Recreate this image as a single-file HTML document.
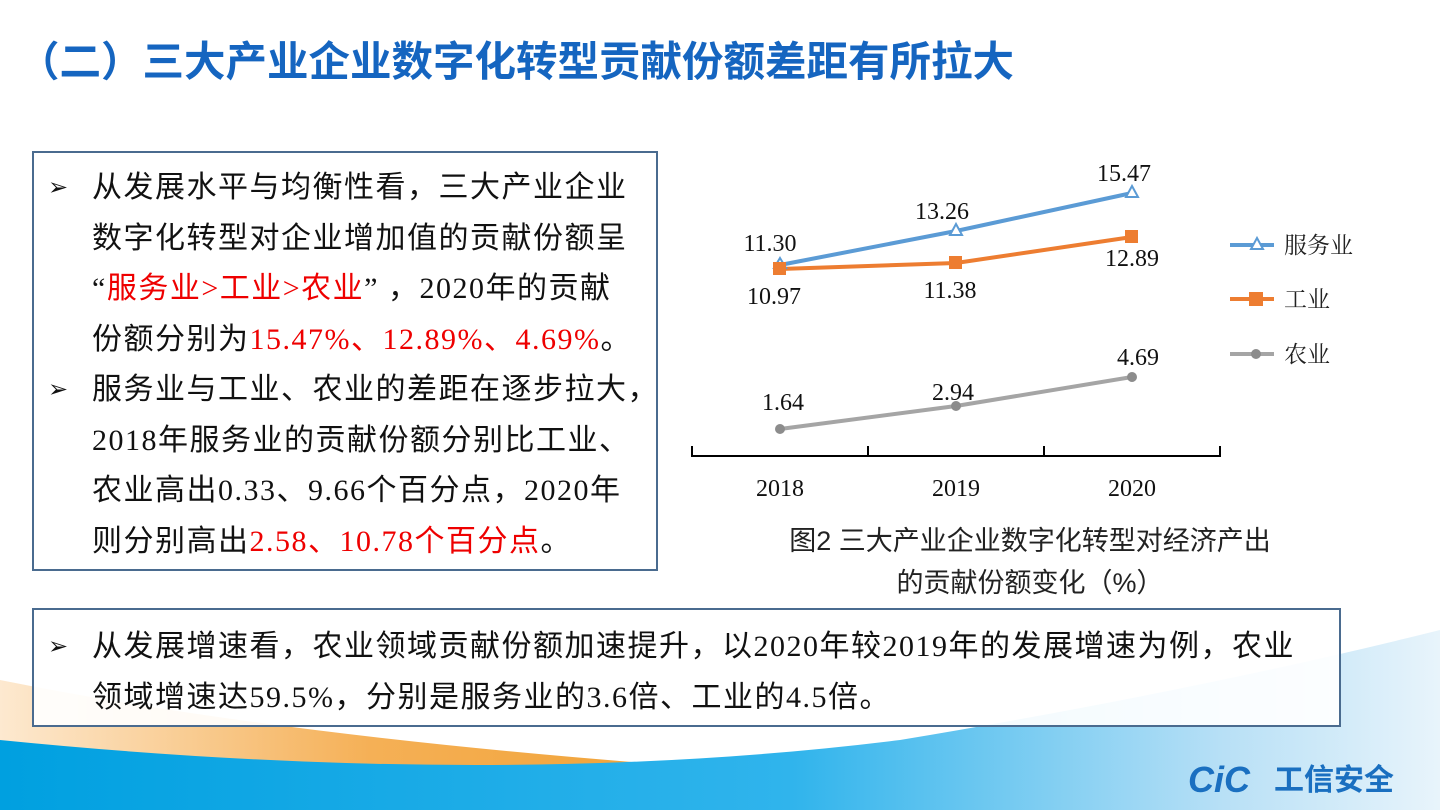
<!DOCTYPE html>
<html><head><meta charset="utf-8"><style>
body{margin:0;width:1440px;height:810px;position:relative;overflow:hidden;background:#fff;font-family:"Liberation Serif","Noto Serif CJK SC","Noto Sans CJK SC",serif;}
.t{position:absolute;left:18px;top:28px;font:bold 41.5px "Liberation Sans","Noto Sans CJK SC",sans-serif;color:#1565c0;white-space:nowrap}
.box{position:absolute;border:2px solid #4a6b8f;background:rgba(255,255,255,0.92);}
.p{position:absolute;font-size:30px;line-height:50.5px;color:#111;font-family:"Liberation Serif","Noto Sans CJK SC",sans-serif;letter-spacing:1.5px;white-space:nowrap}
.p div{position:relative;padding-left:44px}
.p .bl{position:absolute;left:0;top:0;font-size:24px}
.r{color:#e00;}
.b{position:absolute}
</style></head><body>
<svg width="1440" height="810" style="position:absolute;left:0;top:0">
<defs>
<linearGradient id="og" x1="0" x2="1" y1="0" y2="0"><stop offset="0" stop-color="#fde9d0"/><stop offset="0.5" stop-color="#f5b056"/><stop offset="1" stop-color="#f0a030"/></linearGradient>
<linearGradient id="bg" x1="0" x2="1" y1="0" y2="0"><stop offset="0" stop-color="#00a0e0"/><stop offset="0.55" stop-color="#30b4ec"/><stop offset="0.85" stop-color="#b8e0f6"/><stop offset="1" stop-color="#e8f4fb"/></linearGradient>
</defs>
<path d="M0 680 Q300 740 740 770 L0 810 Z" fill="url(#og)"/>
<path d="M0 740 Q500 790 900 740 Q1200 690 1440 630 L1440 810 L0 810 Z" fill="url(#bg)"/>
<g fill="none" stroke-width="4">
<polyline points="780,265 956,231 1132,193" stroke="#5b9bd5"/>
<polyline points="780,269 956,263 1132,237" stroke="#ed7d31"/>
<polyline points="780,429 956,406 1132,377" stroke="#a5a5a5"/>
</g>
<g fill="#fff" stroke="#5b9bd5" stroke-width="2">
<polygon points="780,258 786,268 774,268"/><polygon points="956,224 962,235 950,235"/><polygon points="1132,186 1138,197 1126,197"/>
</g>
<g fill="#ed7d31"><rect x="773" y="262" width="13" height="13"/><rect x="949" y="256" width="13" height="13"/><rect x="1125" y="230" width="13" height="13"/></g>
<g fill="#8c8c8c"><circle cx="780" cy="429" r="5"/><circle cx="956" cy="406" r="5"/><circle cx="1132" cy="377" r="5"/></g>
<path d="M692 446 V456 H1220 V446 M868 456 V446 M1044 456 V446" stroke="#000" stroke-width="2" fill="none"/>
<g font-family="Liberation Serif" font-size="24" fill="#111" text-anchor="middle">
<text x="770" y="251">11.30</text><text x="942" y="219">13.26</text><text x="1124" y="181">15.47</text>
<text x="774" y="304">10.97</text><text x="950" y="298">11.38</text><text x="1132" y="266">12.89</text>
<text x="783" y="410">1.64</text><text x="953" y="400">2.94</text><text x="1138" y="365">4.69</text>
<text x="780" y="496">2018</text><text x="956" y="496">2019</text><text x="1132" y="496">2020</text>
</g>
<line x1="1230" y1="245" x2="1274" y2="245" stroke="#5b9bd5" stroke-width="4"/><polygon points="1257,238 1263,249 1251,249" fill="#fff" stroke="#5b9bd5" stroke-width="2"/>
<line x1="1230" y1="299" x2="1274" y2="299" stroke="#ed7d31" stroke-width="4"/><rect x="1249" y="292" width="14" height="14" fill="#ed7d31"/>
<line x1="1230" y1="354" x2="1274" y2="354" stroke="#a5a5a5" stroke-width="4"/><circle cx="1256" cy="354" r="5" fill="#8c8c8c"/>
<g font-family="Liberation Serif,Noto Serif CJK SC,serif" font-size="23" fill="#222">
<text x="1284" y="253">服务业</text><text x="1284" y="307">工业</text><text x="1284" y="362">农业</text>
</g>
<text x="1188" y="792" font-family="Liberation Sans,sans-serif" font-style="italic" font-weight="bold" font-size="36" fill="#1a6fc0">CiC</text>
<text x="1274" y="790" font-family="Noto Sans CJK SC,sans-serif" font-weight="bold" font-size="30" fill="#1a6fc0">工信安全</text>
</svg>
<div class="t">（二）三大产业企业数字化转型贡献份额差距有所拉大</div>
<div class="box" style="left:32px;top:151px;width:622px;height:416px"></div>
<div class="p" style="left:48px;top:163px;">
<div><span class="bl">➢</span>从发展水平与均衡性看，三大产业企业</div>
<div>数字化转型对企业增加值的贡献份额呈<br>“<span class="r">服务业&gt;工业&gt;农业</span>” ，2020年的贡献<br>份额分别为<span class="r">15.47%、12.89%、4.69%</span>。</div>
<div><span class="bl">➢</span>服务业与工业、农业的差距在逐步拉大，</div>
<div>2018年服务业的贡献份额分别比工业、<br>农业高出0.33、9.66个百分点，2020年<br>则分别高出<span class="r">2.58、10.78个百分点</span>。</div>
</div>
<div class="b" style="left:700px;top:520px;width:660px;text-align:center;font-family:'Liberation Sans','Noto Sans CJK SC',sans-serif;font-size:27px;line-height:42px;color:#222">图2 三大产业企业数字化转型对经济产出<br>的贡献份额变化（%）</div>
<div class="box" style="left:32px;top:608px;width:1305px;height:115px"></div>
<div class="p" style="left:48px;top:622px;">
<div><span class="bl">➢</span>从发展增速看，农业领域贡献份额加速提升，以2020年较2019年的发展增速为例，农业</div>
<div>领域增速达59.5%，分别是服务业的3.6倍、工业的4.5倍。</div>
</div>
</body></html>
